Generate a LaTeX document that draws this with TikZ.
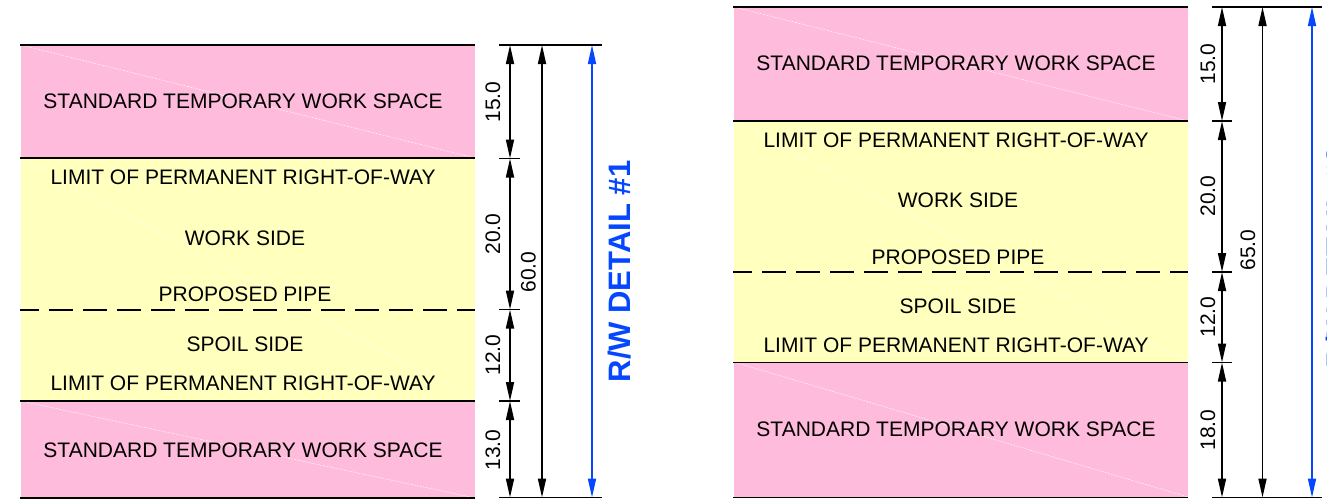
\documentclass[tikz,border=0pt]{standalone}
\usepackage{fontspec}
\setmainfont{Liberation Sans}
\usetikzlibrary{arrows.meta}
\definecolor{pinkfill}{RGB}{255,187,220}
\definecolor{yelfill}{RGB}{255,255,190}
\definecolor{dimblue}{RGB}{5,70,255}
\tikzset{
  x=1pt,y=-1pt,
  diag/.style={white,line width=0.4pt,dash pattern=on 2pt off 1pt},
  limit/.style={black,line width=1.9pt},
  pipe/.style={black,line width=2pt,dash pattern=on 24pt off 10pt,dash phase=5pt},
  tick/.style={black,line width=1.5pt},
  dimline/.style={black,line width=1.7pt,{Triangle[length=19pt,width=8pt]}-{Triangle[length=19pt,width=8pt]}},
  dimlineb/.style={dimblue,line width=1.7pt,{Triangle[length=19pt,width=8pt]}-{Triangle[length=19pt,width=8pt]}},
  lab/.style={font=\fontsize{21pt}{23pt}\selectfont,inner sep=0pt,text=black},
  dimlab/.style={lab,rotate=90},
  title/.style={font=\bfseries\fontsize{31pt}{33pt}\selectfont,inner sep=0pt,text=dimblue,rotate=90},
}
\begin{document}
\begin{tikzpicture}
\useasboundingbox (0,0) rectangle (1327,499);
\clip (0,0) rectangle (1327,499);
% ---------- left detail ----------
\fill[pinkfill] (21,45) rectangle (475,158);
\fill[yelfill] (21,158) rectangle (475,401);
\fill[pinkfill] (21,401) rectangle (475,498);
\draw[diag] (21,45) -- (475,158);
\draw[diag] (21,158) -- (475,401);
\draw[diag] (21,401) -- (475,498);
\draw[limit] (20,45) -- (475,45);
\draw[limit] (20,158) -- (475,158);
\draw[pipe] (20,309.5) -- (475,309.5);
\draw[limit] (20,401) -- (475,401);
\draw[limit] (20,498) -- (475,498);
\node[lab] (a1) at (243,101) {STANDARD TEMPORARY WORK SPACE};
\node[lab] (a2) at (243,177) {LIMIT OF PERMANENT RIGHT-OF-WAY};
\node[lab] (a3) at (245,238) {WORK SIDE};
\node[lab] (a4) at (245,294) {PROPOSED PIPE};
\node[lab] (a5) at (245,344) {SPOIL SIDE};
\node[lab] (a6) at (243,383) {LIMIT OF PERMANENT RIGHT-OF-WAY};
\node[lab] (a7) at (243,450) {STANDARD TEMPORARY WORK SPACE};
\coordinate (lt0) at (510,45);
\coordinate (lt1) at (510,158.5);
\coordinate (lt2) at (510,309.5);
\coordinate (lt3) at (510,401);
\coordinate (lt4) at (510,497.5);
\coordinate (lm0) at (542,45);
\coordinate (lm1) at (542,497.5);
\coordinate (lb0) at (592,45);
\coordinate (lb1) at (592,497.5);
\draw[tick] (499,45) -- (602,45);
\draw[tick] (499,158.5) -- (520,158.5);
\draw[tick] (499,309.5) -- (520,309.5);
\draw[tick] (499,401) -- (520,401);
\draw[tick] (499,497.5) -- (602,497.5);
\draw[dimline] (lt0) -- (lt1);
\draw[dimline] (lt1) -- (lt2);
\draw[dimline] (lt2) -- (lt3);
\draw[dimline] (lt3) -- (lt4);
\draw[dimline] (lm0) -- (lm1);
\draw[dimlineb] (lb0) -- (lb1);
\node[dimlab] (d1) at (493,102) {15.0};
\node[dimlab] (d2) at (493,234) {20.0};
\node[dimlab] (d3) at (493,355) {12.0};
\node[dimlab] (d4) at (493,450) {13.0};
\node[dimlab] (d5) at (528.5,272) {60.0};
\node[title] (t1) at (620,271.5) {R/W DETAIL \#1};
% ---------- right detail ----------
\fill[pinkfill] (734,7) rectangle (1188,121);
\fill[yelfill] (734,121) rectangle (1188,362);
\fill[pinkfill] (734,362) rectangle (1188,497);
\draw[diag] (734,7) -- (1188,121);
\draw[diag] (734,121) -- (1188,362);
\draw[diag] (734,362) -- (1188,497);
\draw[limit] (733,7) -- (1188,7);
\draw[limit] (733,121) -- (1188,121);
\draw[pipe] (733,271.5) -- (1188,271.5);
\draw[limit] (733,362.5) -- (1188,362.5);
\draw[limit] (733,497.5) -- (1188,497.5);
\node[lab] (b1) at (956,63) {STANDARD TEMPORARY WORK SPACE};
\node[lab] (b2) at (956,140) {LIMIT OF PERMANENT RIGHT-OF-WAY};
\node[lab] (b3) at (958,200) {WORK SIDE};
\node[lab] (b4) at (958,257) {PROPOSED PIPE};
\node[lab] (b5) at (958,306) {SPOIL SIDE};
\node[lab] (b6) at (956,345) {LIMIT OF PERMANENT RIGHT-OF-WAY};
\node[lab] (b7) at (956,429) {STANDARD TEMPORARY WORK SPACE};
\coordinate (rt0) at (1222,7);
\coordinate (rt1) at (1222,121);
\coordinate (rt2) at (1222,272);
\coordinate (rt3) at (1222,362.5);
\coordinate (rt4) at (1222,497.5);
\coordinate (rm0) at (1262.5,7);
\coordinate (rm1) at (1262.5,497.5);
\coordinate (rb0) at (1312,7);
\coordinate (rb1) at (1312,497.5);
\draw[tick] (1212,7) -- (1322,7);
\draw[tick] (1212,121) -- (1232,121);
\draw[tick] (1212,272) -- (1232,272);
\draw[tick] (1212,362.5) -- (1232,362.5);
\draw[tick] (1212,497.5) -- (1322,497.5);
\draw[dimline] (rt0) -- (rt1);
\draw[dimline] (rt1) -- (rt2);
\draw[dimline] (rt2) -- (rt3);
\draw[dimline] (rt3) -- (rt4);
\draw[dimline] (rm0) -- (rm1);
\draw[dimlineb] (rb0) -- (rb1);
\node[dimlab] (e1) at (1208,64) {15.0};
\node[dimlab] (e2) at (1208,196) {20.0};
\node[dimlab] (e3) at (1208,317) {12.0};
\node[dimlab] (e4) at (1208,430) {18.0};
\node[dimlab] (e5) at (1248,250) {65.0};
\node[title] (t2) at (1338,257.5) {R/W DETAIL \#2};
\end{tikzpicture}
\end{document}
